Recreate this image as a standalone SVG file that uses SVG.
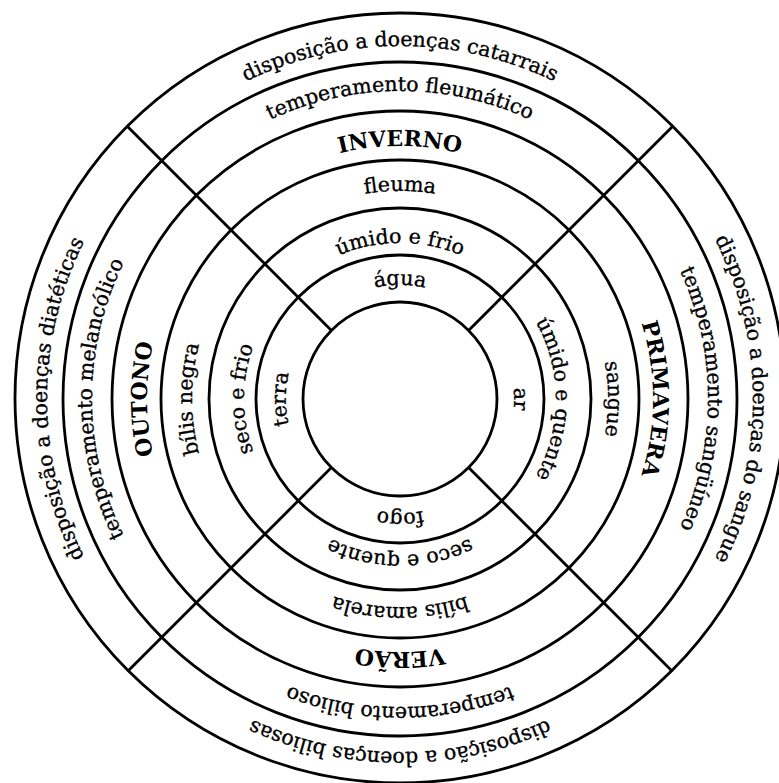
<svg xmlns="http://www.w3.org/2000/svg" xmlns:xlink="http://www.w3.org/1999/xlink" width="779" height="783" viewBox="0 0 779 783">
  <style>
    .ring { fill: none; stroke: #000; stroke-width: 2.8; }
    .div { stroke: #000; stroke-width: 2.8; stroke-linecap: butt; }
    .t { font-family: "DejaVu Serif", "Liberation Serif", serif; font-size: 20.5px; fill: #000; stroke: #000; stroke-width: 0.35; text-anchor: middle; }
    .s { font-family: "DejaVu Serif", "Liberation Serif", serif; font-size: 22px; font-weight: bold; fill: #000; text-anchor: middle; }
  </style>
  <defs>
    <path id="p6" d="M150.39,648.61 A353,353 0 1 1 649.61,149.39 A353,353 0 1 1 150.39,648.61"/>
    <path id="p5" d="M182.21,616.79 A308,308 0 1 1 617.79,181.21 A308,308 0 1 1 182.21,616.79"/>
    <path id="p4" d="M221.10,577.90 A253,253 0 1 1 578.90,220.10 A253,253 0 1 1 221.10,577.90"/>
    <path id="p3" d="M252.92,546.08 A208,208 0 1 1 547.08,251.92 A208,208 0 1 1 252.92,546.08"/>
    <path id="p2" d="M289.69,509.31 A156,156 0 1 1 510.31,288.69 A156,156 0 1 1 289.69,509.31"/>
    <path id="p1" d="M319.39,479.61 A114,114 0 1 1 480.61,318.39 A114,114 0 1 1 319.39,479.61"/>
  </defs>
  <rect width="779" height="783" fill="#fff"/>

  <g id="rings">
    <circle class="ring" cx="400" cy="399" r="97"/>
    <circle class="ring" cx="400" cy="399" r="144"/>
    <circle class="ring" cx="400" cy="399" r="191"/>
    <circle class="ring" cx="400" cy="399" r="239"/>
    <circle class="ring" cx="400" cy="399" r="288"/>
    <circle class="ring" cx="400" cy="399" r="337"/>
    <circle class="ring" cx="400" cy="398" r="385"/>
  </g>

  <g id="connectors">
    <line class="div" x1="331.41" y1="330.41" x2="127.77" y2="126.77"/>
    <line class="div" x1="468.59" y1="330.41" x2="672.23" y2="126.77"/>
    <line class="div" x1="468.59" y1="467.59" x2="672.23" y2="671.23"/>
    <line class="div" x1="331.41" y1="467.59" x2="127.77" y2="671.23"/>
  </g>

  <g id="inverno">
    <text class="t"><textPath xlink:href="#p6" href="#p6" startOffset="37.5%">disposição a doenças catarrais</textPath></text>
    <text class="t"><textPath xlink:href="#p5" href="#p5" startOffset="37.5%">temperamento fleumático</textPath></text>
    <text class="s"><textPath xlink:href="#p4" href="#p4" startOffset="37.5%">INVERNO</textPath></text>
    <text class="t"><textPath xlink:href="#p3" href="#p3" startOffset="37.5%">fleuma</textPath></text>
    <text class="t"><textPath xlink:href="#p2" href="#p2" startOffset="37.5%">úmido e frio</textPath></text>
    <text class="t"><textPath xlink:href="#p1" href="#p1" startOffset="37.5%">água</textPath></text>
  </g>

  <g id="primavera">
    <text class="t"><textPath xlink:href="#p6" href="#p6" startOffset="62.5%">disposição a doenças do sangue</textPath></text>
    <text class="t"><textPath xlink:href="#p5" href="#p5" startOffset="62.5%">temperamento sangüíneo</textPath></text>
    <text class="s"><textPath xlink:href="#p4" href="#p4" startOffset="62.5%">PRIMAVERA</textPath></text>
    <text class="t"><textPath xlink:href="#p3" href="#p3" startOffset="62.5%">sangue</textPath></text>
    <text class="t"><textPath xlink:href="#p2" href="#p2" startOffset="62.5%">úmido e quente</textPath></text>
    <text class="t"><textPath xlink:href="#p1" href="#p1" startOffset="62.5%">ar</textPath></text>
  </g>

  <g id="verao">
    <text class="t"><textPath xlink:href="#p6" href="#p6" startOffset="87.5%">disposição a doenças biliosas</textPath></text>
    <text class="t"><textPath xlink:href="#p5" href="#p5" startOffset="87.5%">temperamento bilioso</textPath></text>
    <text class="s"><textPath xlink:href="#p4" href="#p4" startOffset="87.5%">VERÃO</textPath></text>
    <text class="t"><textPath xlink:href="#p3" href="#p3" startOffset="87.5%">bílis amarela</textPath></text>
    <text class="t"><textPath xlink:href="#p2" href="#p2" startOffset="87.5%">seco e quente</textPath></text>
    <text class="t"><textPath xlink:href="#p1" href="#p1" startOffset="87.5%">fogo</textPath></text>
  </g>

  <g id="outono">
    <text class="t"><textPath xlink:href="#p6" href="#p6" startOffset="12.5%">disposição a doenças diatéticas</textPath></text>
    <text class="t"><textPath xlink:href="#p5" href="#p5" startOffset="12.5%">temperamento melancólico</textPath></text>
    <text class="s"><textPath xlink:href="#p4" href="#p4" startOffset="12.5%">OUTONO</textPath></text>
    <text class="t"><textPath xlink:href="#p3" href="#p3" startOffset="12.5%">bílis negra</textPath></text>
    <text class="t"><textPath xlink:href="#p2" href="#p2" startOffset="12.5%">seco e frio</textPath></text>
    <text class="t"><textPath xlink:href="#p1" href="#p1" startOffset="12.5%">terra</textPath></text>
  </g>
</svg>
